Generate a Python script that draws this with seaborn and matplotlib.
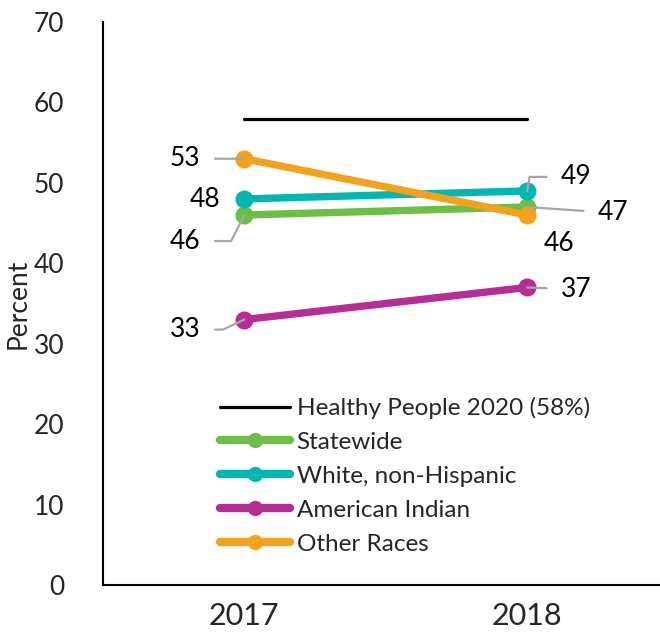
import matplotlib
matplotlib.use("Agg")
import matplotlib.pyplot as plt
import seaborn as sns
import pandas as pd

years = ["2017", "2018"]
series_names = ["Statewide", "White, non-Hispanic", "American Indian", "Other Races"]
statewide = [46, 47]
white = [48, 49]
american_indian = [33, 37]
other_races = [53, 46]
healthy_people = 58
hp_label = "Healthy People 2020 (58%)"
colors = ["#6DBE45", "#00B8B0", "#B52D95", "#F4A21C"]

sns.set_theme(style="white")
plt.rcParams["font.family"] = ["Lato", "DejaVu Sans"]

fig = plt.figure(figsize=(6.6, 6.33), dpi=100)
ax = fig.add_axes([103 / 660, 48 / 633, 557 / 660, 563 / 633])

xpos = list(range(len(years)))
sns.lineplot(x=xpos, y=[healthy_people] * len(years), color="black", linewidth=2.3,
             ax=ax, label=hp_label)

values = [statewide, white, american_indian, other_races]
for name, vals, c in zip(series_names, values, colors):
    sns.lineplot(x=xpos, y=vals, color=c, linewidth=5.3, marker="o", markersize=13,
                 markeredgewidth=0, ax=ax, label=name)

# data labels: (series index, point index, offset px, connection angleB or None)
label_specs = [
    (3, 0, (-59, 0), "straight"),
    (1, 0, (-39, -1), None),
    (0, 0, (-59, -26), 63),
    (2, 0, (-59, -10), 25),
    (1, 1, (49, 14), 80),
    (0, 1, (86, -6), "straight"),
    (3, 1, (32, -28), None),
    (2, 1, (49, -2), "straight"),
]
for si, pi, off, conn in label_specs:
    v = values[si][pi]
    if conn is None:
        ax.annotate(str(v), xy=(pi, v), xytext=off, textcoords="offset pixels",
                    ha="center", va="center", fontsize=19, color="black")
    else:
        cs = "arc3" if conn == "straight" else f"angle,angleA=0,angleB={conn},rad=0"
        ax.annotate(str(v), xy=(pi, v), xytext=off, textcoords="offset pixels",
                    ha="center", va="center", fontsize=19, color="black",
                    arrowprops=dict(arrowstyle="-", color="#A6A6A6", lw=1.6,
                                    shrinkA=8, shrinkB=0, connectionstyle=cs))

ax.set_xlim(-0.5, 1.47)
ax.set_ylim(0, 70)
ax.set_yticks(range(0, 71, 10))
ax.set_xticks(xpos)
ax.set_xticklabels(years, fontsize=22)
ax.tick_params(axis="y", labelsize=19, length=0, pad=28)
ax.tick_params(axis="x", length=0, pad=12)
ax.set_ylabel("Percent", fontsize=19, labelpad=2)
for s in ["top", "right"]:
    ax.spines[s].set_visible(False)
for s in ["left", "bottom"]:
    ax.spines[s].set_color("black")
    ax.spines[s].set_linewidth(1.5)

leg = ax.legend(loc="upper left", bbox_to_anchor=(220 / 660, 1 - 397 / 633),
                bbox_transform=fig.transFigure, frameon=False, fontsize=17.5,
                handlelength=2.9, handletextpad=0.25, labelspacing=0.53,
                borderpad=0, borderaxespad=0)
for h in leg.legend_handles[1:]:
    h.set_markersize(11)
    h.set_linewidth(6)

fig.savefig("out.png", dpi=100)
